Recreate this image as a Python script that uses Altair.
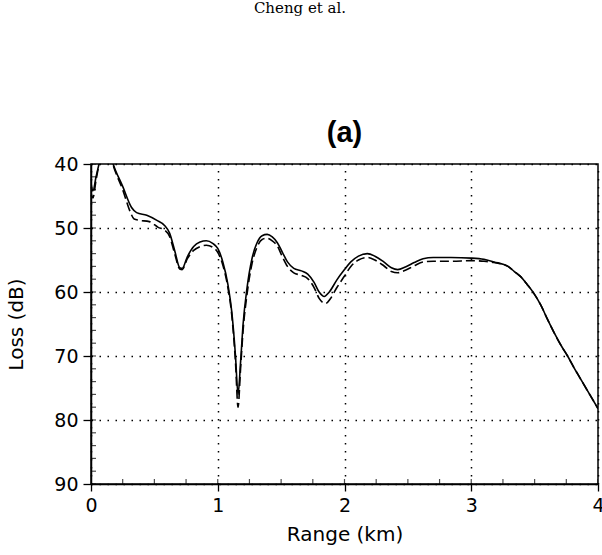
import altair as alt
import pandas as pd

# ---- data ----
range_solid = [0.00, 0.015, 0.04, 0.07, 0.11, 0.15, 0.18, 0.25, 0.32, 0.36, 0.44, 0.52, 0.58, 0.62,
               0.66, 0.70, 0.72, 0.76, 0.81, 0.86, 0.91, 0.96, 1.00, 1.04, 1.08, 1.11, 1.14, 1.16,
               1.18, 1.20, 1.23, 1.27, 1.31, 1.35, 1.39, 1.43, 1.47, 1.51, 1.55, 1.60, 1.66, 1.71,
               1.76, 1.80, 1.84, 1.88, 1.94, 2.00, 2.05, 2.11, 2.18, 2.24, 2.31, 2.37, 2.42, 2.48,
               2.55, 2.62, 2.70, 2.84, 3.00, 3.10, 3.18, 3.29, 3.34, 3.39, 3.44, 3.49, 3.55, 3.60,
               3.66, 3.71, 3.76, 3.81, 3.86, 3.94, 4.00]
loss_solid = [43.0, 44.2, 42.0, 39.5, 37.5, 38.5, 40.3, 43.5, 46.8, 47.6, 48.0, 48.8, 49.6, 50.8,
              53.5, 56.2, 56.3, 54.5, 52.9, 52.2, 52.0, 52.4, 53.2, 55.3, 58.8, 63.0, 70.0, 76.0,
              71.0, 65.0, 59.5, 54.8, 52.3, 51.2, 51.0, 51.4, 52.3, 53.8, 55.3, 56.3, 56.7, 57.2,
              58.5, 60.0, 60.7, 60.0, 58.1, 56.5, 55.3, 54.4, 54.0, 54.4, 55.3, 56.2, 56.5, 56.1,
              55.4, 54.8, 54.6, 54.6, 54.7, 54.9, 55.3, 56.0, 56.8, 57.6, 58.8, 60.1, 62.1, 64.2,
              66.6, 68.4, 70.0, 71.8, 73.5, 76.2, 78.2]

range_dashed = [0.00, 0.015, 0.04, 0.07, 0.11, 0.15, 0.18, 0.25, 0.31, 0.34, 0.38, 0.46, 0.53, 0.58,
                0.62, 0.66, 0.70, 0.72, 0.76, 0.81, 0.86, 0.91, 0.96, 1.00, 1.04, 1.08, 1.11, 1.14,
                1.16, 1.18, 1.20, 1.23, 1.27, 1.31, 1.35, 1.39, 1.43, 1.47, 1.51, 1.55, 1.60, 1.66,
                1.71, 1.76, 1.80, 1.85, 1.89, 1.94, 2.00, 2.05, 2.11, 2.18, 2.24, 2.31, 2.37, 2.42,
                2.48, 2.55, 2.62, 2.70, 2.84, 3.00, 3.10, 3.18, 3.29, 3.34, 3.39, 3.44, 3.49, 3.55,
                3.60, 3.66, 3.71, 3.76, 3.81, 3.86, 3.94, 4.00]
loss_dashed = [44.5, 45.3, 42.5, 39.5, 37.5, 38.5, 40.5, 44.0, 47.5, 48.6, 48.8, 49.0, 49.9, 50.3,
               51.3, 54.0, 56.4, 56.5, 54.8, 53.5, 52.9, 52.7, 53.0, 53.8, 55.8, 59.3, 63.5, 71.0,
               78.0, 72.0, 66.0, 60.5, 55.6, 53.0, 51.8, 51.6, 52.0, 52.8, 54.5, 56.0, 57.0, 57.4,
               57.9, 59.3, 61.0, 61.8, 61.0, 59.3, 57.5, 56.0, 55.0, 54.6, 55.0, 55.9, 56.8, 57.0,
               56.6, 55.9, 55.3, 55.2, 55.2, 55.1, 55.2, 55.4, 56.0, 56.8, 57.6, 58.8, 60.1, 62.1,
               64.2, 66.6, 68.4, 70.0, 71.8, 73.5, 76.2, 78.2]

x_ticks = [0, 1, 2, 3, 4]
y_ticks = [40, 50, 60, 70, 80, 90]
x_minor = [0, 0.25, 0.5, 0.75, 1, 1.25, 1.5, 1.75, 2, 2.25, 2.5, 2.75, 3, 3.25, 3.5, 3.75, 4]
y_minor = [40, 42, 44, 46, 48, 50, 52, 54, 56, 58, 60, 62, 64, 66, 68, 70, 72, 74, 76, 78,
           80, 82, 84, 86, 88, 90]
header = ["Cheng et al."]
panel_title = ["(a)"]

solid_df = pd.DataFrame({"range": range_solid, "loss": loss_solid})
dashed_df = pd.DataFrame({"range": range_dashed, "loss": loss_dashed})
xminor_df = pd.DataFrame({"range": x_minor})
yminor_df = pd.DataFrame({"loss": y_minor})
header_df = pd.DataFrame({"label": header})
panel_df = pd.DataFrame({"label": panel_title})

W, H = 507, 320
FONT = "DejaVu Sans"

x_scale = alt.Scale(domain=[0, 4], nice=False, zero=False)
y_scale = alt.Scale(domain=[40, 90], reverse=True, nice=False, zero=False)

x_axis = alt.Axis(values=x_ticks, title="Range (km)", grid=True, gridColor="black",
                  gridDash=[1.5, 6.5], gridWidth=1.5, gridOpacity=1,
                  domainColor="black", domainWidth=1.5, tickColor="black", tickSize=7,
                  tickWidth=1.3, labelFont=FONT, labelFontSize=19, labelColor="black",
                  labelPadding=5, labelFlush=False, labelOverlap=False,
                  titleFont=FONT, titleFontSize=20, titleFontWeight="normal",
                  titleColor="black", titlePadding=9, format="d")
y_axis = alt.Axis(values=y_ticks, title="Loss (dB)", grid=True, gridColor="black",
                  gridDash=[1.5, 6.5], gridWidth=1.5, gridOpacity=1,
                  domainColor="black", domainWidth=1.5, tickColor="black", tickSize=8,
                  tickWidth=1.3, labelFont=FONT, labelFontSize=19, labelColor="black",
                  labelPadding=5, labelFlush=False, labelOverlap=False,
                  titleFont=FONT, titleFontSize=20, titleFontWeight="normal",
                  titleColor="black", titlePadding=27)

X = alt.X("range:Q", scale=x_scale, axis=x_axis)
Y = alt.Y("loss:Q", scale=y_scale, axis=y_axis)

solid = alt.Chart(solid_df).mark_line(
    color="black", strokeWidth=1.6, interpolate="monotone", clip=True
).encode(x=X, y=Y)

dashed = alt.Chart(dashed_df).mark_line(
    color="black", strokeWidth=1.6, strokeDash=[9, 4], interpolate="monotone", clip=True
).encode(x=X, y=Y)

xminor = alt.Chart(xminor_df).mark_tick(
    color="black", thickness=1.2, size=5, clip=True
).encode(x=X, y=alt.value(H - 2.5))

yminor = alt.Chart(yminor_df).mark_tick(
    color="black", thickness=1.2, size=5, clip=True
).encode(y=Y, x=alt.value(2.5))

head = alt.Chart(header_df).mark_text(
    font="DejaVu Serif", fontSize=15, color="black", align="center", baseline="alphabetic"
).encode(
    text="label:N",
    x=alt.value(209),
    y=alt.value(-151),
)

panel = alt.Chart(panel_df).mark_text(
    font="Liberation Sans", fontSize=29, fontWeight="bold", color="black",
    align="center", baseline="alphabetic"
).encode(
    text="label:N",
    x=alt.value(W / 2),
    y=alt.value(-22),
)

chart = alt.layer(solid, dashed, xminor, yminor, head, panel).properties(
    width=W,
    height=H,
    padding={"left": 91, "top": 164, "right": 4, "bottom": 71},
    autosize=alt.AutoSizeParams(type="none"),
    background="white",
).configure_view(stroke="black", strokeWidth=1.5)

chart.save("out.html", embed_options={"renderer": "svg", "actions": False})
